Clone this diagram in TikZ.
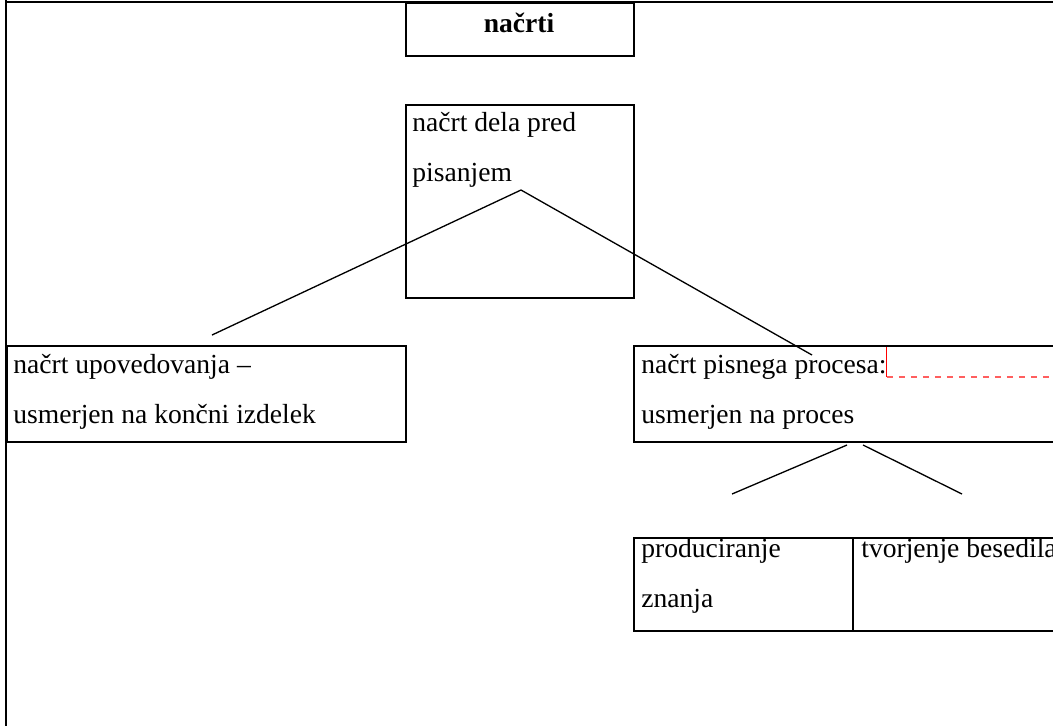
\documentclass[tikz,border=0pt]{standalone}
\usepackage{fontspec}
\setmainfont{Liberation Serif}
\def\px{0.02cm}
\definecolor{markred}{RGB}{255,95,95}
\tikzset{
  box/.style={draw, line width=1.1pt, inner sep=0pt, anchor=north west},
  txt/.style={anchor=base west, align=left, inner sep=0pt, font=\fontsize{15.7}{28.45}\selectfont},
  link/.style={line width=0.75pt}
}

\begin{document}
\begin{tikzpicture}[x=\px, y=-\px]
	\useasboundingbox (0,0) rectangle (1053,725);
	\draw[line width=1.1pt] (6,0) -- (6,726);
	\draw[line width=1.1pt] (6,2) -- (1060,2);

	\node[box, minimum width=228*\px, minimum height=53*\px] (top) at (405,2) {};
	\node[txt, anchor=base, font=\fontsize{15.7}{28.45}\selectfont\bfseries] (topT) at (519,32) {načrti};

	\node[box, minimum width=228*\px, minimum height=193*\px] (pred) at (405,104) {};
	\node[txt] (predT) at (412,181) {načrt dela pred\\pisanjem};

	\node[box, minimum width=399*\px, minimum height=96*\px] (upov) at (6,345) {};
	\node[txt] (upovT) at (13,423) {načrt upovedovanja –\\usmerjen na končni izdelek};

	\node[box, minimum width=430*\px, minimum height=96*\px] (proc) at (633,345) {};
	\node[txt] (procT) at (641,423) {načrt pisnega procesa:\\usmerjen na proces};
	\draw[red, line width=0.5pt] (procT.east |- proc.north) ++(0,2) -- ++(0,30) coordinate (mark);
	\draw[markred, line width=0.6pt, dash pattern=on 0.13cm off 0.11cm] (mark) -- (1053,377);

	\node[box, minimum width=219*\px, minimum height=93*\px] (znanje) at (633,537) {};
	\node[box, minimum width=230*\px, minimum height=93*\px] (besed) at (852,537) {};
	\node[txt] (znanjeT) at (641,607) {produciranje\\znanja};
	\node[txt] (besedT) at (861,557) {tvorjenje besedila};

	% razvejitve
	\coordinate (apex) at (521,190);
	\coordinate (upovA) at (212,335);
	\coordinate (procA) at (812,355);
	\draw[link] (upovA) -- (apex) -- (procA);
	\coordinate (procL) at (847,445);
	\coordinate (procR) at (863,445);
	\coordinate (znanjeA) at (732,494);
	\coordinate (besedA) at (962,494);
	\draw[link] (procL) -- (znanjeA);
	\draw[link] (procR) -- (besedA);
\end{tikzpicture}
\end{document}
